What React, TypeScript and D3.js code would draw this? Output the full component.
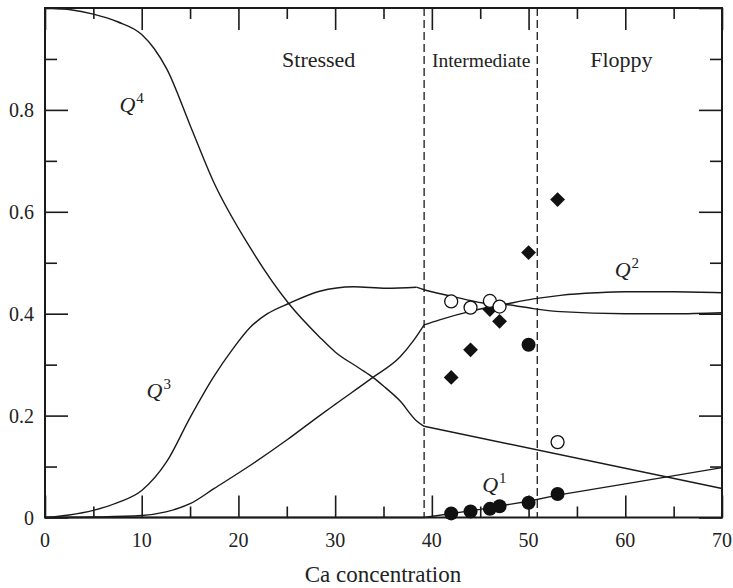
import React, { useEffect, useRef } from 'react';
import * as d3 from 'd3';

// curves (x = Ca concentration, y = fraction)
const q4X = [0, 2.5, 5, 7.5, 10, 11.3, 12.6, 15, 17.4, 21.2, 25.2, 28.4, 30, 32.5, 33.9, 35, 36.7, 38.4, 39.2];
const q4Y = [1.0, 0.997, 0.988, 0.973, 0.948, 0.92, 0.88, 0.77, 0.66, 0.53, 0.42, 0.354, 0.325, 0.293, 0.275, 0.258, 0.229, 0.19, 0.179];
const q4TailX = [39.2, 70];
const q4TailY = [0.179, 0.057];

const q3X = [0, 2.5, 5, 7.5, 10, 12.6, 15, 17.4, 19.5, 21.2, 23, 25.2, 28.4, 31.9, 35.3, 38.4];
const q3Y = [0, 0.005, 0.014, 0.029, 0.053, 0.11, 0.196, 0.275, 0.333, 0.373, 0.4, 0.42, 0.444, 0.453, 0.45, 0.452];
const q3TailX = [38.4, 39.2, 41.9, 45.3, 47.7, 50.5, 53.3, 60, 65, 70];
const q3TailY = [0.452, 0.447, 0.435, 0.421, 0.418, 0.41, 0.404, 0.4, 0.4, 0.402];

const q2X = [0, 5, 10, 12.5, 15, 17.5, 21.2, 25, 28.4, 30, 33.9, 36.7, 38.1, 39.2];
const q2Y = [0, 0.001, 0.004, 0.011, 0.027, 0.057, 0.102, 0.152, 0.2, 0.222, 0.275, 0.315, 0.347, 0.378];
const q2TailX = [39.2, 40.8, 44.3, 47.7, 50.5, 53.3, 57, 60, 65, 70];
const q2TailY = [0.378, 0.388, 0.406, 0.419, 0.429, 0.436, 0.441, 0.443, 0.443, 0.441];

const q1X = [0, 39.2, 45, 50, 53, 60, 70];
const q1Y = [0, 0, 0.016, 0.032, 0.044, 0.066, 0.098];

// measured points
const openX = [42, 44, 46, 47, 53];
const openY = [0.424, 0.412, 0.425, 0.414, 0.148];
const diamondX = [42, 44, 46, 47, 50, 53];
const diamondY = [0.275, 0.329, 0.408, 0.385, 0.52, 0.624];
const filledX = [42, 44, 46, 47, 50, 50, 53];
const filledY = [0.008, 0.012, 0.017, 0.022, 0.029, 0.339, 0.046];

const boundaries = [39.2, 50.9];
const regionNames = ['Stressed', 'Intermediate', 'Floppy'];
const regionX = [28.3, 45.1, 59.6];
const regionSize = [22, 19.5, 22];
const qSups = ['4', '3', '2', '1'];
const qX = [7.7, 10.5, 58.9, 45.2];
const qY = [0.795, 0.234, 0.472, 0.05];

const xTicks = [0, 10, 20, 30, 40, 50, 60, 70];
const yTicks = [0, 0.2, 0.4, 0.6, 0.8];

const zip = (xs: number[], ys: number[]) => xs.map((x, i) => [x, ys[i]] as [number, number]);

const App = () => {
  const ref = useRef<SVGSVGElement>(null);

  useEffect(() => {
    const svg = d3.select(ref.current);
    svg.selectAll('*').remove();

    const left = 45, right = 722, top = 8, bottom = 517.5;
    const ink = '#1a1a1a';
    const x = d3.scaleLinear().domain([0, 70]).range([left, right]);
    const y = d3.scaleLinear().domain([0, 1]).range([bottom, top]);

    const smooth = d3.line<[number, number]>()
      .x(d => x(d[0])).y(d => y(d[1]))
      .curve(d3.curveMonotoneX);
    const straight = d3.line<[number, number]>()
      .x(d => x(d[0])).y(d => y(d[1]));

    const curves = [
      smooth(zip(q4X, q4Y)), straight(zip(q4TailX, q4TailY)),
      smooth(zip(q3X, q3Y)), smooth(zip(q3TailX, q3TailY)),
      smooth(zip(q2X, q2Y)), smooth(zip(q2TailX, q2TailY)),
      straight(zip(q1X, q1Y)),
    ];
    svg.selectAll('.curve')
      .data(curves).enter().append('path')
      .attr('d', d => d || '')
      .attr('fill', 'none')
      .attr('stroke', ink)
      .attr('stroke-width', 1.4);

    // frontières de phase
    svg.selectAll('.bound')
      .data(boundaries).enter().append('line')
      .attr('x1', d => x(d)).attr('x2', d => x(d))
      .attr('y1', top).attr('y2', bottom)
      .attr('stroke', ink).attr('stroke-width', 1.3)
      .attr('stroke-dasharray', '8,4');

    // ticks via d3 axes, pointing inward on all four sides
    const xMajor = d3.range(0, 71, 10), xMinor = d3.range(5, 70, 10);
    const yMajor = d3.range(0, 11, 2).map(k => k / 10), yMinor = d3.range(1, 10, 2).map(k => k / 10);
    const axes: [any, number, number][] = [
      [d3.axisBottom(x).tickValues(xMajor).tickSize(-22), 0, bottom],
      [d3.axisBottom(x).tickValues(xMinor).tickSize(-11), 0, bottom],
      [d3.axisTop(x).tickValues(xMajor).tickSize(-22), 0, top],
      [d3.axisTop(x).tickValues(xMinor).tickSize(-11), 0, top],
      [d3.axisLeft(y).tickValues(yMajor).tickSize(-23), left, 0],
      [d3.axisLeft(y).tickValues(yMinor).tickSize(-12), left, 0],
      [d3.axisRight(y).tickValues(yMajor).tickSize(-23), right, 0],
      [d3.axisRight(y).tickValues(yMinor).tickSize(-12), right, 0],
    ];
    axes.forEach(([ax, tx, ty]) => {
      const g = svg.append('g')
        .attr('transform', `translate(${tx},${ty})`)
        .call(ax.tickFormat(() => ''));
      g.select('.domain').remove();
      g.selectAll('line').attr('stroke', ink).attr('stroke-width', 1.6);
    });

    svg.append('rect')
      .attr('x', left).attr('y', top)
      .attr('width', right - left).attr('height', bottom - top)
      .attr('fill', 'none').attr('stroke', ink).attr('stroke-width', 2);

    const txt = svg.append('g')
      .style('font-family', 'Liberation Serif, serif')
      .attr('fill', '#222');

    txt.selectAll('.xn')
      .data(xTicks).enter().append('text')
      .attr('x', d => x(d)).attr('y', 547)
      .attr('text-anchor', 'middle').attr('font-size', 20)
      .text(d => String(d));

    txt.selectAll('.yn')
      .data(yTicks).enter().append('text')
      .attr('x', 34).attr('y', d => y(d) + 7)
      .attr('text-anchor', 'end').attr('font-size', 20)
      .text(d => (d === 0 ? '0' : d3.format('.1f')(d)));

    txt.append('text')
      .attr('x', 383).attr('y', 582)
      .attr('text-anchor', 'middle').attr('font-size', 23)
      .text('Ca concentration');

    regionNames.forEach((n, i) => {
      txt.append('text')
        .attr('x', x(regionX[i])).attr('y', 67)
        .attr('text-anchor', 'middle').attr('font-size', regionSize[i])
        .text(n);
    });

    qSups.forEach((s, i) => {
      const t = txt.append('text')
        .attr('x', x(qX[i])).attr('y', y(qY[i]))
        .attr('font-size', 22);
      t.append('tspan').attr('font-style', 'italic').text('Q');
      t.append('tspan').attr('font-size', 15).attr('dx', 1).attr('dy', -9).text(s);
    });

    // markers
    svg.selectAll('.diamond')
      .data(zip(diamondX, diamondY)).enter().append('path')
      .attr('d', d3.symbol(d3.symbolSquare, 110)() || '')
      .attr('transform', d => `translate(${x(d[0])},${y(d[1])}) rotate(45)`)
      .attr('fill', '#111');

    svg.selectAll('.open')
      .data(zip(openX, openY)).enter().append('circle')
      .attr('cx', d => x(d[0])).attr('cy', d => y(d[1])).attr('r', 6.5)
      .attr('fill', 'white').attr('stroke', '#111').attr('stroke-width', 1.3);

    svg.selectAll('.filled')
      .data(zip(filledX, filledY)).enter().append('circle')
      .attr('cx', d => x(d[0])).attr('cy', d => y(d[1])).attr('r', 7)
      .attr('fill', '#111');
  }, []);

  return (
    <svg ref={ref} width={733} height={588}
      style={{ position: 'absolute', left: 0, top: 0, background: 'white' }} />
  );
};

export default App;
